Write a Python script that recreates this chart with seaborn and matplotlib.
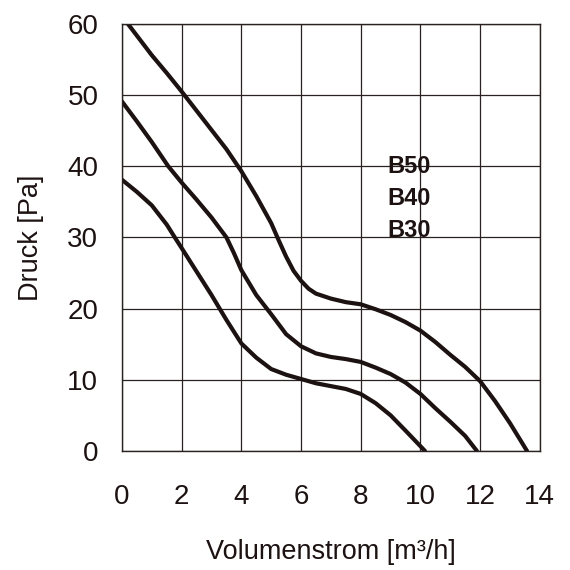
import matplotlib
matplotlib.use("Agg")
import matplotlib.pyplot as plt
import seaborn as sns
import pandas as pd

# Read-off data (Volumenstrom m3/h vs Druck Pa)
b50_x = [0.2, 0.6, 1.0, 1.5, 2.0, 2.5, 3.0, 3.5, 4.0, 4.5, 5.0, 5.25, 5.5, 5.75,
         6.0, 6.25, 6.5, 7.0, 7.5, 8.0, 8.5, 9.0, 9.5, 10.0, 10.5, 11.0, 11.5, 12.0,
         12.5, 13.0, 13.57]
b50_y = [60.0, 57.8, 55.6, 53.1, 50.5, 47.8, 45.1, 42.4, 39.3, 35.8, 32.0, 29.6,
         27.3, 25.3, 23.9, 22.8, 22.1, 21.4, 20.9, 20.6, 19.9, 19.1, 18.1, 16.9, 15.3,
         13.5, 11.8, 9.8, 7.0, 3.9, 0.0]

b40_x = [0.0, 0.5, 1.0, 1.55, 2.0, 2.5, 3.0, 3.5, 3.75, 4.0, 4.5, 5.0, 5.5, 6.0, 6.5,
         7.0, 7.5, 8.0, 8.5, 9.0, 9.5, 10.0, 10.5, 11.0, 11.5, 11.89]
b40_y = [49.1, 46.3, 43.4, 40.0, 37.7, 35.3, 32.8, 30.0, 27.8, 25.4, 21.9, 19.2, 16.4,
         14.7, 13.7, 13.2, 12.9, 12.5, 11.7, 10.8, 9.6, 8.0, 6.0, 4.1, 2.1, 0.0]

b30_x = [0.0, 0.5, 1.0, 1.5, 1.77, 2.0, 2.5, 3.0, 3.5, 4.0, 4.5, 5.0, 5.5, 6.0, 6.5,
         7.0, 7.5, 8.0, 8.5, 9.0, 9.5, 10.15]
b30_y = [38.1, 36.4, 34.5, 31.8, 30.0, 28.5, 25.2, 21.9, 18.4, 15.1, 13.1, 11.5, 10.7,
         10.1, 9.5, 9.1, 8.7, 8.0, 6.7, 5.0, 2.85, 0.0]

labels = ["B50", "B40", "B30"]
label_y = [40, 35.5, 31]
x_ticks = [0, 2, 4, 6, 8, 10, 12, 14]
y_ticks = [0, 10, 20, 30, 40, 50, 60]

sns.set_theme(style="white")
plt.rcParams['font.family'] = ['Liberation Sans', 'DejaVu Sans']

fig = plt.figure(figsize=(5.7, 5.7), dpi=100)
ax = fig.add_axes([0.214, 0.209, 0.733, 0.749])

line_color = "#1c1211"
for xs, ys in [(b50_x, b50_y), (b40_x, b40_y), (b30_x, b30_y)]:
    df = pd.DataFrame({"x": xs, "y": ys})
    sns.lineplot(data=df, x="x", y="y", ax=ax, color=line_color, linewidth=3.0,
                 sort=False, estimator=None)

ax.set_xlim(0, 14)
ax.set_ylim(0, 60)
ax.set_xticks(x_ticks)
ax.set_yticks(y_ticks)
ax.grid(True, color="#2a2220", linewidth=0.9)
ax.set_axisbelow(True)
for s in ax.spines.values():
    s.set_color("#2a2220")
    s.set_linewidth(1.0)
ax.tick_params(axis="both", length=0, labelsize=20, colors="#1c1211")
ax.tick_params(axis="x", pad=24)
ax.tick_params(axis="y", pad=17)

ax.set_xlabel("Volumenstrom [m³/h]", fontsize=19.5, color="#1c1211", labelpad=21)
ax.set_ylabel("Druck [Pa]", fontsize=19.5, color="#1c1211", labelpad=17)

for lab, ly in zip(labels, label_y):
    ax.text(8.9, ly, lab, fontsize=17, fontweight="bold", color="#1c1211",
            ha="left", va="center")

fig.savefig("out.png", dpi=100)
